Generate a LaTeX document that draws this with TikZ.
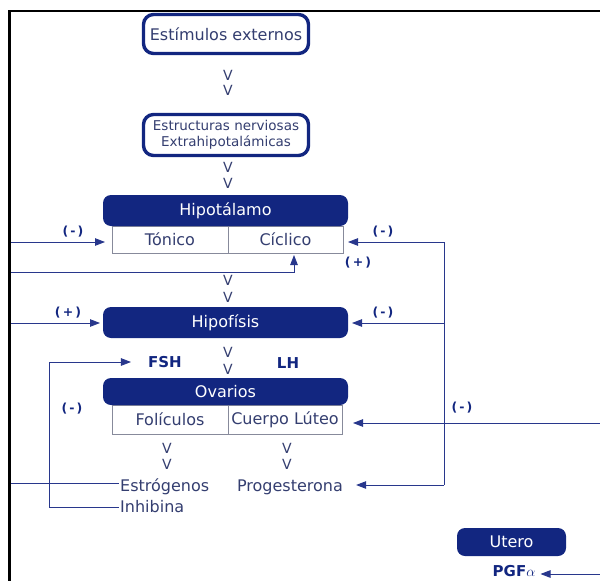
\documentclass[tikz,border=0pt]{standalone}
\usepackage{fontspec}
\setmainfont{DejaVu Sans}
\usetikzlibrary{positioning,arrows.meta}
\definecolor{navy}{RGB}{18,38,128}
\definecolor{linecol}{RGB}{40,55,140}
\definecolor{ink}{RGB}{52,62,112}
\definecolor{rim}{RGB}{135,138,155}
\tikzset{
  outbox/.style={draw=navy, line width=3.4pt, rounded corners=10pt, fill=white, text=ink,
    align=center, inner sep=0pt, outer sep=0pt, font=\fontsize{16}{19}\selectfont},
  band/.style={fill=navy, rounded corners=8pt, text=white, minimum width=245pt,
    inner sep=0pt, outer sep=0pt, font=\fontsize{16}{19}\selectfont},
  cell/.style={draw=rim, line width=0.9pt, fill=white, text=ink, inner sep=0pt,
    outer sep=0pt, font=\fontsize{16}{19}\selectfont},
  lbl/.style={text=ink, inner sep=1pt, font=\fontsize{16}{19}\selectfont},
  sign/.style={text=navy, inner sep=0pt, font=\bfseries\fontsize{12.5}{14}\selectfont},
  hormone/.style={text=navy, inner sep=1pt, font=\bfseries\fontsize{15}{18}\selectfont},
  vee/.style={text=ink, inner sep=0pt, font=\fontsize{14}{16}\selectfont},
  wire/.style={draw=linecol, line width=0.9pt},
  arr/.style={wire, -{Triangle[length=10pt,width=7.5pt]}},
}
\begin{document}
\begin{tikzpicture}[x=1pt, y=-1pt]
  \useasboundingbox (0,0) rectangle (600,581);
  \draw[line width=1.4pt] (8,11) -- (600,11);
  \draw[line width=3pt] (9.5,10.3) -- (9.5,581);

  \node[outbox, minimum width=165pt, minimum height=39pt] (est) at (226,34) {Estímulos externos};
  \node[outbox, minimum width=165pt, minimum height=41pt, font=\fontsize{13.5}{16}\selectfont]
    (ner) at (226,135) {Estructuras nerviosas\\Extrahipotalámicas};

  \node[cell, minimum width=116pt, minimum height=27pt, anchor=north west] (ton) at (112,226) {Tónico};
  \node[cell, minimum width=115pt, minimum height=27pt, right=0pt of ton] (cic) {Cíclico};
  \node[band, minimum height=31pt] (hip) at (225.5,210.5) {Hipotálamo};

  \node[band, minimum height=31pt] (hyp) at (225.5,322.5) {Hipofísis};

  \node[cell, minimum width=116pt, minimum height=29pt, anchor=north west] (fol) at (112,405) {Folículos};
  \node[cell, minimum width=114pt, minimum height=29pt, right=0pt of fol] (cl) {Cuerpo Lúteo};
  \node[band, minimum height=27pt] (ova) at (225.5,391.5) {Ovarios};

  \node[lbl, anchor=west] (estr) at (119,487) {Estrógenos};
  \node[lbl, anchor=west] (inh) at (119,507) {Inhibina};
  \node[lbl] (prog) at (290,487) {Progesterona};

  \node[band, minimum width=109pt, minimum height=28pt] (ute) at (511.5,542) {Utero};
  \node[hormone] (pgf) at (514,571) {PGF\(\alpha\)};

  \node[hormone] (fsh) at (165,362) {FSH};
  \node[hormone] (lh) at (288,363) {LH};

  \node[vee] (v1) at (228,75) {V};
  \node[vee] (v2) at (228,90) {V};
  \node[vee] (v3) at (228,167) {V};
  \node[vee] (v4) at (228,183) {V};
  \node[vee] (v5) at (228,280) {V};
  \node[vee] (v6) at (228,297) {V};
  \node[vee] (v7) at (228,352) {V};
  \node[vee] (v8) at (228,369) {V};
  \node[vee] (v9) at (167,448) {V};
  \node[vee] (v10) at (167,464) {V};
  \node[vee] (v11) at (287,448) {V};
  \node[vee] (v12) at (287,464) {V};

  \node[sign] (s1) at (73,232) {(\,-\,)};
  \node[sign] (s2) at (383,232) {(\,-\,)};
  \node[sign] (s3) at (358,263) {(\,+\,)};
  \node[sign] (s4) at (68,313) {(\,+\,)};
  \node[sign] (s5) at (383,313) {(\,-\,)};
  \node[sign] (s6) at (72,409) {(\,-\,)};
  \node[sign] (s7) at (462,408) {(\,-\,)};

  \coordinate (l1) at (11,242);
  \coordinate (l2) at (11,272);
  \coordinate (l3) at (11,323);
  \coordinate (l4) at (11,483);
  \coordinate (r1) at (444,242);
  \coordinate (r2) at (444,323);
  \coordinate (r3) at (444,485);
  \coordinate (r4) at (600,423);
  \coordinate (r5) at (600,574);
  \coordinate (f1) at (49,362);

  \draw[arr, shorten >=7pt] (l1) -- (l1 -| ton.west);
  \draw[arr, shorten >=2pt] (l2) -| ([xshift=8.5pt]cic.south);
  \draw[arr, shorten >=3pt] (l3) -- (l3 -| hyp.west);
  \draw[wire] (l4) -- (l4 -| estr.west);
  \draw[wire] (r1) -- (r3);
  \draw[arr, shorten >=5pt] (r1) -- (r1 -| cic.east);
  \draw[arr, shorten >=4pt] (r2) -- (r2 -| hyp.east);
  \draw[arr, shorten >=12pt] (r3) -- (r3 -| prog.east);
  \draw[arr, shorten >=11pt] (r4) -- (r4 -| cl.east);
  \draw[arr, shorten >=4pt] (r5) -- (r5 -| pgf.east);
  \draw[arr, shorten >=16pt] (f1) -- (f1 -| fsh.west);
  \draw[wire] (f1) |- (inh.west);
\end{tikzpicture}
\end{document}
